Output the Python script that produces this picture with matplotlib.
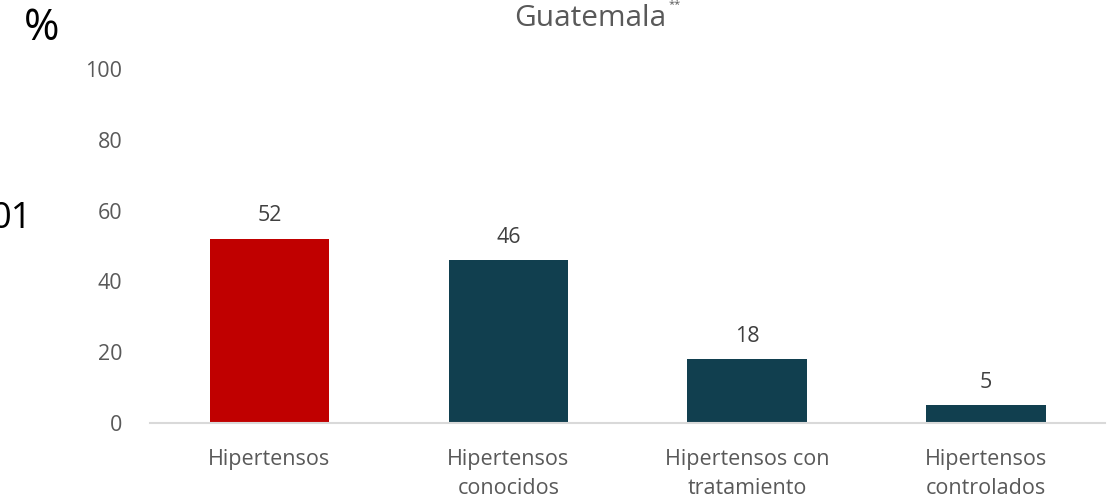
import numpy as np
import matplotlib.pyplot as plt

plt.rcParams['font.family'] = ['Open Sans', 'DejaVu Sans']

# Datos
categorias = ['Hipertensos', 'Hipertensos\nconocidos', 'Hipertensos con\ntratamiento', 'Hipertensos\ncontrolados']
valores = [52, 46, 18, 5]
colores = ['#C00000', '#113F4F', '#113F4F', '#113F4F']
yticks = [0, 20, 40, 60, 80, 100]

fig = plt.figure(figsize=(11.14, 5.03), dpi=100)
ax = fig.add_axes([0.1347, 0.159, 0.8575, 0.704])

x = np.arange(len(categorias))
bars = ax.bar(x, valores, width=0.5, color=colores)

for b, v in zip(bars, valores):
    ax.text(b.get_x() + b.get_width() / 2, v + 3.5, str(v), ha='center', va='bottom',
            fontsize=15.5, color='#404040')

ax.set_xlim(-0.5, len(categorias) - 0.5)
ax.set_ylim(0, 100)
ax.set_yticks(yticks)
ax.set_xticks(x)
ax.set_xticklabels(categorias, fontsize=15.5, color='#595959', linespacing=1.5)
ax.tick_params(axis='y', labelsize=15.5, labelcolor='#595959', length=0, pad=20)
ax.tick_params(axis='x', length=0, pad=19)

for s in ['top', 'right', 'left']:
    ax.spines[s].set_visible(False)
ax.spines['bottom'].set_color('#D9D9D9')
ax.spines['bottom'].set_linewidth(1.5)

fig.text(0.53, 0.948, 'Guatemala', ha='center', va='baseline', fontsize=21.5, color='#595959')
fig.text(0.600, 0.99, '**', ha='left', va='center', fontsize=8, color='#595959')
fig.text(0.021, 0.942, '%', ha='left', va='center', fontsize=31, color='black')
fig.text(0.028, 0.565, '01', ha='right', va='center', fontsize=26, color='black')

fig.savefig('out.png', dpi=100)
